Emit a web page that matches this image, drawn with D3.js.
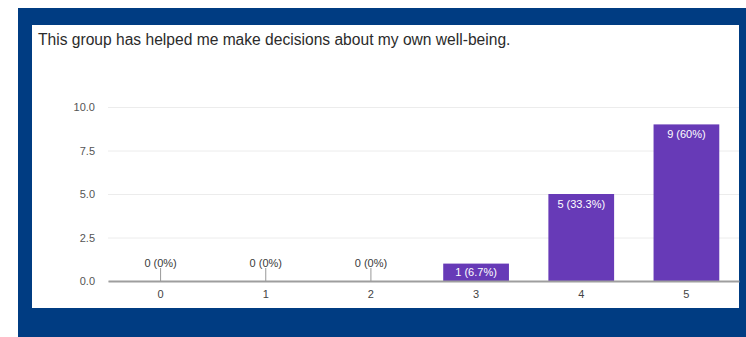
<!DOCTYPE html>
<html>
<head>
<meta charset="utf-8">
<script src="https://cdn.jsdelivr.net/npm/d3@7"></script>
<style>
  html, body { margin: 0; padding: 0; background: #fff; }
  svg { display: block; }
</style>
</head>
<body>
<svg id="chart" width="746" height="337"></svg>
<script>
// Survey responses: rating scale 0–5, counts of respondents
const title = "This group has helped me make decisions about my own well-being.";
const categories = ["0", "1", "2", "3", "4", "5"];
const counts = [0, 0, 0, 1, 5, 9];
const valueLabels = ["0 (0%)", "0 (0%)", "0 (0%)", "1 (6.7%)", "5 (33.3%)", "9 (60%)"];
const yTicks = [0, 2.5, 5, 7.5, 10];

const svg = d3.select("#chart");
const W = 746, H = 337;

// Blue frame and white card
svg.append("rect").attr("x", 0).attr("y", 0).attr("width", W).attr("height", H).attr("fill", "#fff");
svg.append("rect").attr("x", 18).attr("y", 8).attr("width", W - 18).attr("height", H - 8).attr("fill", "#003c82");
svg.append("rect").attr("x", 32).attr("y", 25).attr("width", 707).attr("height", 283).attr("fill", "#fff");

const font = "Liberation Sans, Arial, sans-serif";

// Question title
svg.append("text")
  .attr("x", 38).attr("y", 45)
  .attr("font-family", font)
  .attr("font-size", 15.6)
  .attr("fill", "#2b2b2b")
  .text(title);

const plot = { left: 108, right: 739, top: 107, bottom: 281 };

const x = d3.scaleBand()
  .domain(categories)
  .range([plot.left, plot.right])
  .paddingInner(0.375)
  .paddingOuter(0.1875);

const y = d3.scaleLinear()
  .domain([0, 10])
  .range([plot.bottom, plot.top]);

// Horizontal gridlines
const yAxis = d3.axisLeft(y)
  .tickValues(yTicks)
  .tickFormat(d3.format(".1f"))
  .tickSize(-(plot.right - plot.left))
  .tickPadding(13);

const gy = svg.append("g")
  .attr("transform", `translate(${plot.left},0)`)
  .call(yAxis);
gy.select(".domain").remove();
gy.selectAll(".tick line").attr("stroke", "#ececec").attr("stroke-width", 1);
gy.selectAll(".tick text")
  .attr("font-family", font).attr("font-size", 11).attr("fill", "#555");

// Bars
svg.append("g").selectAll("rect")
  .data(counts)
  .join("rect")
  .attr("x", (d, i) => x(categories[i]))
  .attr("width", x.bandwidth())
  .attr("y", d => y(d))
  .attr("height", d => y(0) - y(d))
  .attr("fill", "#673ab7");

// x axis baseline
const xAxis = d3.axisBottom(x).tickSize(0).tickPadding(9);
const gx = svg.append("g")
  .attr("transform", `translate(0,${plot.bottom})`)
  .call(xAxis);
gx.select(".domain").attr("stroke", "#9e9e9e").attr("stroke-width", 2);
gx.selectAll(".tick text")
  .attr("font-family", font).attr("font-size", 11).attr("fill", "#444");

// Value annotations
const ann = svg.append("g");
counts.forEach((d, i) => {
  const cx = x(categories[i]) + x.bandwidth() / 2;
  if (d === 0) {
    ann.append("line")
      .attr("x1", cx).attr("x2", cx)
      .attr("y1", y(0) - 13).attr("y2", y(0))
      .attr("stroke", "#999").attr("stroke-width", 1);
    ann.append("text")
      .attr("x", cx).attr("y", y(0) - 14)
      .attr("text-anchor", "middle")
      .attr("font-family", font).attr("font-size", 11)
      .attr("fill", "#3a3a3a")
      .text(valueLabels[i]);
  } else {
    const barH = y(0) - y(d);
    const ty = barH < 24 ? y(d) + barH / 2 + 4 : y(d) + 14;
    ann.append("text")
      .attr("x", cx).attr("y", ty)
      .attr("text-anchor", "middle")
      .attr("font-family", font).attr("font-size", 11)
      .attr("fill", "#fff")
      .text(valueLabels[i]);
  }
});
</script>
</body>
</html>
